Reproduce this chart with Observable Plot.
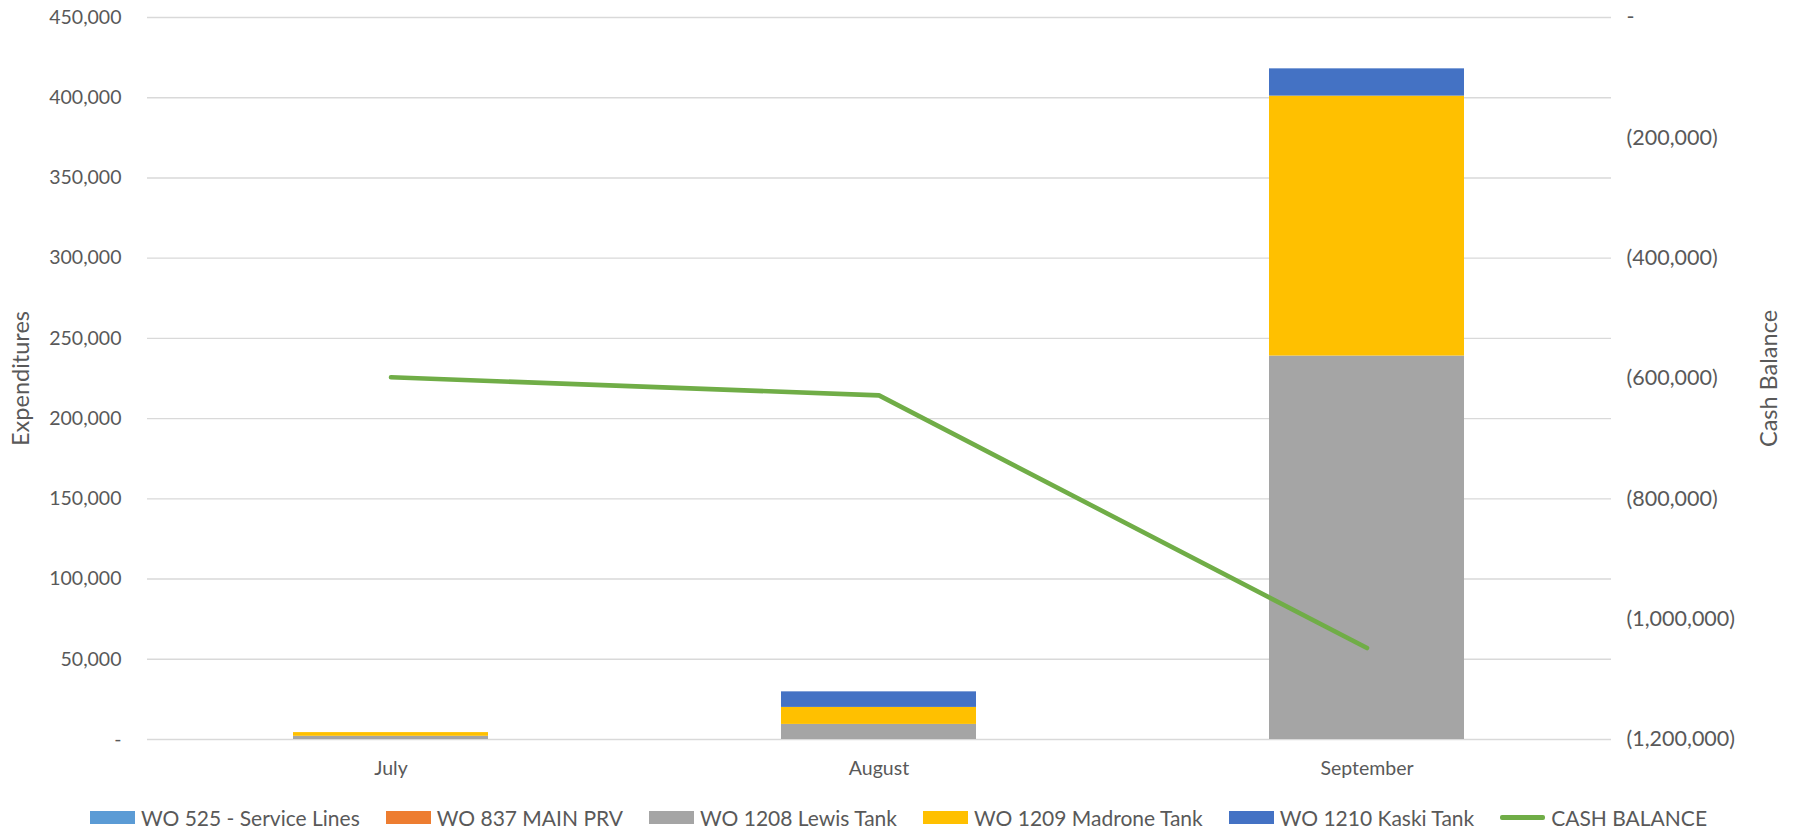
<!DOCTYPE html>
<html>
<head>
<meta charset="utf-8">
<script src="https://cdn.jsdelivr.net/npm/d3@7"></script>
<script src="https://cdn.jsdelivr.net/npm/@observablehq/plot@0.6"></script>
<style>
  html, body { margin: 0; padding: 0; background: #fff; }
  #chart { width: 1797px; }
  .legend { display: flex; justify-content: center; align-items: center; gap: 26px;
    font-family: Lato, "Open Sans", sans-serif; font-size: 21px; color: #595959; height: 45px; }
  .legend .item { display: flex; align-items: center; gap: 6px; }
  .legend .sw { width: 45px; height: 13px; display: inline-block; }
  .legend .ln { width: 45px; height: 4.5px; display: inline-block; border-radius: 2px; }
</style>
</head>
<body>
<div id="chart"></div>
<script>
const months = ["July", "August", "September"];
const seriesNames = ["WO 525 - Service Lines", "WO 837 MAIN PRV", "WO 1208 Lewis Tank", "WO 1209 Madrone Tank", "WO 1210 Kaski Tank"];
const seriesColors = ["#5b9bd5", "#ed7d31", "#a5a5a5", "#ffc000", "#4472c4"];
const wo525 = [0, 0, 0];
const wo837 = [0, 0, 0];
const wo1208 = [2000, 9400, 239000];
const wo1209 = [2300, 10600, 162000];
const wo1210 = [0, 9700, 17000];
const cashBalance = [-598000, -628000, -1048000];
const cashLabel = "CASH BALANCE";
const leftTicks = [0, 50000, 100000, 150000, 200000, 250000, 300000, 350000, 400000, 450000];
const rightTicks = [0, -200000, -400000, -600000, -800000, -1000000, -1200000];

const leftMax = 450000, rightMin = -1200000;
const toLeft = c => (c - rightMin) * leftMax / (0 - rightMin);
const fromLeft = y => Math.round(y * (0 - rightMin) / leftMax + rightMin);

const seriesValues = [wo525, wo837, wo1208, wo1209, wo1210];
const barData = [];
seriesNames.forEach((s, i) => months.forEach((m, j) => barData.push({month: m, series: s, value: seriesValues[i][j]})));
const lineData = months.map((m, j) => ({month: m, cash: cashBalance[j]}));

const fmtLeft = d => d === 0 ? "-" : d3.format(",")(d);
const fmtRight = d => { const v = fromLeft(d); return v === 0 ? "-" : (v < 0 ? "(" + d3.format(",")(-v) + ")" : d3.format(",")(v)); };

const plot = Plot.plot({
  width: 1797,
  height: 795,
  marginLeft: 147,
  marginRight: 186,
  marginTop: 17,
  marginBottom: 56,
  style: {fontFamily: "Lato, 'Open Sans', sans-serif", fontSize: "19.5px", color: "#595959", background: "#fff"},
  x: {domain: months, paddingInner: 0.6, paddingOuter: 0.3, label: null},
  y: {domain: [0, leftMax], label: null},
  color: {domain: seriesNames, range: seriesColors},
  marks: [
    Plot.gridY(leftTicks, {stroke: "#d9d9d9", strokeOpacity: 1, strokeWidth: 1.4}),
    Plot.barY(barData, {x: "month", y: "value", fill: "series", order: seriesNames}),
    Plot.line(lineData, {x: "month", y: d => toLeft(d.cash), stroke: "#70ad47", strokeWidth: 4.6, strokeLinecap: "round", strokeLinejoin: "round"}),
    Plot.axisY(leftTicks, {anchor: "left", tickSize: 0, tickPadding: 26, tickFormat: fmtLeft, label: null}),
    Plot.axisY(rightTicks.map(toLeft), {anchor: "right", tickSize: 0, tickPadding: 15, tickFormat: fmtRight, label: null, fontSize: 21.5}),
    Plot.axisX({tickSize: 0, tickPadding: 22, label: null}),
    Plot.text(["Expenditures"], {text: d => d, frameAnchor: "left", textAnchor: "middle", dx: -126, rotate: -90, fill: "#595959", fontSize: 23.5}),
    Plot.text(["Cash Balance"], {text: d => d, frameAnchor: "right", textAnchor: "middle", dx: 158, rotate: -90, fill: "#595959", fontSize: 23.5})
  ]
});
document.getElementById("chart").appendChild(plot);

const legend = document.createElement("div");
legend.className = "legend";
seriesNames.forEach((s, i) => {
  const it = document.createElement("div"); it.className = "item";
  const sw = document.createElement("span"); sw.className = "sw"; sw.style.background = seriesColors[i];
  const tx = document.createElement("span"); tx.textContent = s;
  it.appendChild(sw); it.appendChild(tx); legend.appendChild(it);
});
{
  const it = document.createElement("div"); it.className = "item";
  const sw = document.createElement("span"); sw.className = "ln"; sw.style.background = "#70ad47";
  const tx = document.createElement("span"); tx.textContent = cashLabel;
  it.appendChild(sw); it.appendChild(tx); legend.appendChild(it);
}
document.getElementById("chart").appendChild(legend);
</script>
</body>
</html>
